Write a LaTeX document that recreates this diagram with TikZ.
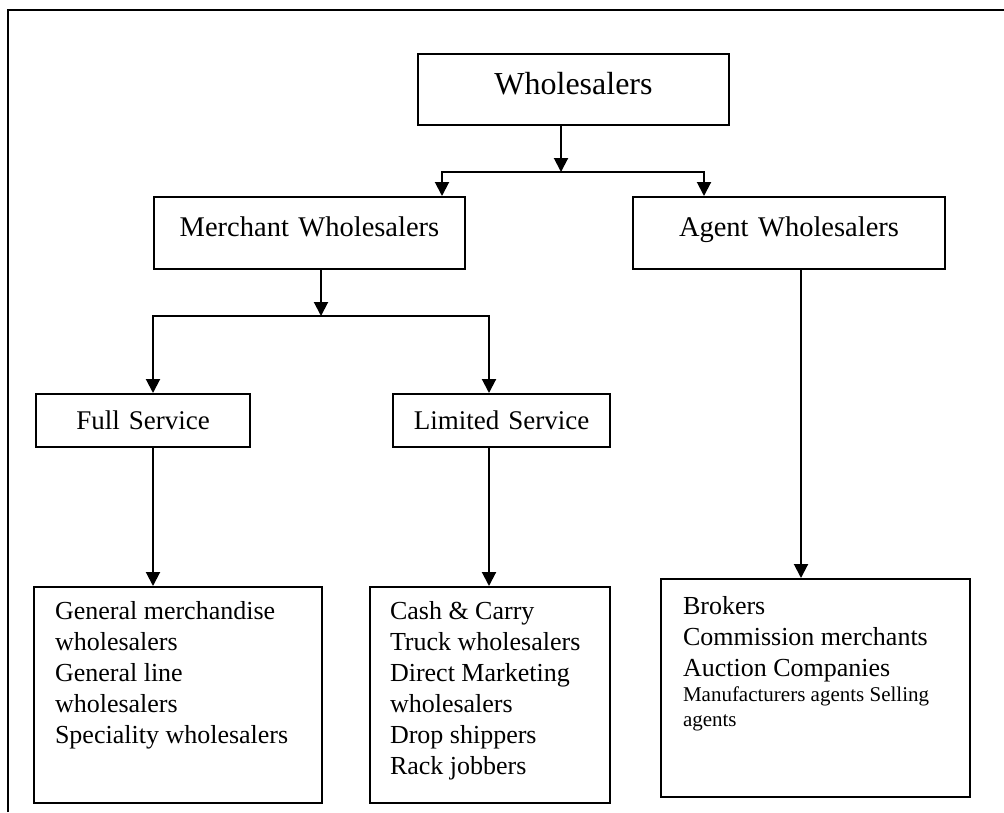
\documentclass[tikz,border=0pt]{standalone}
\usepackage{fontspec}
\setmainfont{Liberation Serif}
\usetikzlibrary{arrows.meta}
\begin{document}
\begin{tikzpicture}[x=1pt, y=-1pt,
  box/.style={draw, line width=2pt, inner sep=0pt, align=center, anchor=north west},
  listbox/.style={draw, line width=2pt, inner ysep=0pt, inner xsep=21pt, align=flush left, anchor=north west, font=\fontsize{26}{31}\selectfont},
  arr/.style={line width=2pt, -{Triangle[length=14pt, width=14pt]}}]
  \useasboundingbox (0,0) rectangle (1004,812);
  \draw[line width=2pt] (8,812) -- (8,10) -- (1004,10);
  \node[box, text width=311pt, text height=40pt, text depth=31pt, font=\fontsize{32}{38}\selectfont] (whole) at (417,53) {Wholesalers};
  \node[box, text width=311pt, text height=39pt, text depth=33pt, font=\fontsize{28.5}{34}\selectfont] (merchant) at (153,196) {Merchant Wholesalers};
  \node[box, text width=312pt, text height=39pt, text depth=33pt, font=\fontsize{28.5}{34}\selectfont] (agent) at (632,196) {Agent Wholesalers};
  \node[box, text width=214pt, text height=35pt, text depth=18pt, font=\fontsize{27}{32}\selectfont] (full) at (35,393) {Full Service};
  \node[box, text width=217pt, text height=35pt, text depth=18pt, font=\fontsize{27}{32}\selectfont] (limited) at (392,393) {Limited Service};
  \node[listbox, text width=246pt, text height=32pt, text depth=184pt] (fulllist) at (33,586) {General merchandise\\wholesalers\\General line\\wholesalers\\Speciality wholesalers};
  \node[listbox, text width=200pt, inner xsep=20pt, text height=32pt, text depth=184pt] (limitedlist) at (369,586) {Cash \& Carry\\Truck wholesalers\\Direct Marketing\\wholesalers\\Drop shippers\\Rack jobbers};
  \node[listbox, text width=265pt, inner xsep=22pt, text height=35pt, text depth=183pt] (agentlist) at (660,578) {Brokers\\Commission merchants\\Auction Companies\par
    {\fontsize{21}{25}\selectfont Manufacturers agents Selling\\agents\par}};
  \coordinate (jw) at (561,172);
  \draw[arr] (jw |- whole.south) -- (jw);
  \draw[arr] (jw) -| (442,0 |- merchant.north);
  \draw[arr] (jw) -| (704,0 |- agent.north);
  \coordinate (jm) at (321,316);
  \draw[arr] (jm |- merchant.south) -- (jm);
  \draw[arr] (jm) -| (153,0 |- full.north);
  \draw[arr] (jm) -| (489,0 |- limited.north);
  \draw[arr] (153,0 |- full.south) -- (153,0 |- fulllist.north);
  \draw[arr] (489,0 |- limited.south) -- (489,0 |- limitedlist.north);
  \draw[arr] (801,0 |- agent.south) -- (801,0 |- agentlist.north);
\end{tikzpicture}
\end{document}
